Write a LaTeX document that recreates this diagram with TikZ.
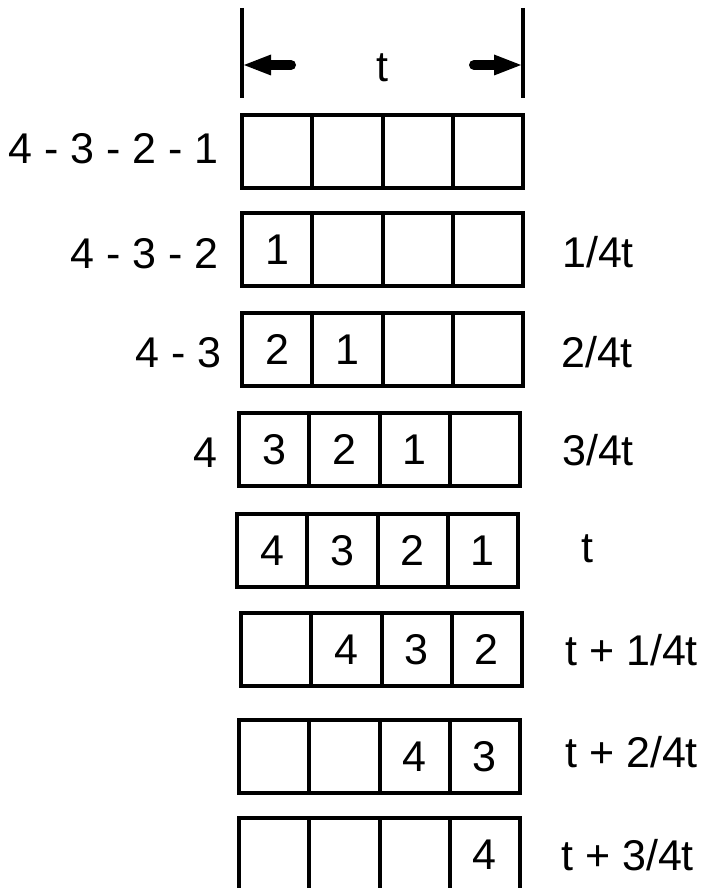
\documentclass[tikz,border=0pt]{standalone}
\usepackage{fontspec}
\newfontfamily\labfont{Liberation Sans}
\usetikzlibrary{arrows.meta}
\tikzset{
  txt/.style={font={\labfont\fontsize{43}{51}\selectfont}, inner sep=0pt},
  cell/.style={draw, line width=4pt, minimum width=70.25pt, minimum height=73pt, inner sep=0pt, txt, text height=30.8pt, text depth=0pt},
  dimline/.style={line width=4pt},
  dimarrow/.style={line width=10pt, line cap=round, -{Triangle[length=27pt,width=21pt,line width=0pt]}}
}
\begin{document}
\begin{tikzpicture}[x=1pt,y=-1pt]
\useasboundingbox (0,0) rectangle (707,888);
\clip (0,0) rectangle (707,888);
% dimension lines
\coordinate (lt) at (242,8);
\coordinate (lb) at (242,98);
\coordinate (rt) at (523,8);
\coordinate (rb) at (523,98);
\draw[dimline] (lt) -- (lb);
\draw[dimline] (rt) -- (rb);
\coordinate (la) at (291,65);
\coordinate (lta) at (244,65);
\coordinate (ra) at (474,65);
\coordinate (rta) at (521,65);
\draw[dimarrow] (la) -- (lta);
\draw[dimarrow] (ra) -- (rta);
\node[txt, anchor=base] (tlab) at (382,82) {t};
% rows of cells
\foreach \r/\L/\T/\a/\b/\c/\d in {
  1/242/114/{}/{}/{}/{},
  2/242/212/1/{}/{}/{},
  3/242/312/2/1/{}/{},
  4/239/412/3/2/1/{},
  5/237/513/4/3/2/1,
  6/241/612/{}/4/3/2,
  7/239/719/{}/{}/4/3,
  8/239/817/{}/{}/{}/4}{
  \node[cell] (r\r c1) at (\L+35.125, \T+37.5) {\a};
  \node[cell] (r\r c2) at (\L+105.375, \T+37.5) {\b};
  \node[cell] (r\r c3) at (\L+175.625, \T+37.5) {\c};
  \node[cell] (r\r c4) at (\L+245.875, \T+37.5) {\d};
}
% left labels
\node[txt, anchor=base east] (l1) at (219,163) {4 - 3 - 2 - 1};
\node[txt, anchor=base east] (l2) at (219,268) {4 - 3 - 2};
\node[txt, anchor=base east] (l3) at (222,367) {4 - 3};
\node[txt, anchor=base east] (l4) at (218,467) {4};
% right labels
\node[txt, anchor=base west] (q1) at (562,267) {1/4t};
\node[txt, anchor=base west] (q2) at (561,367) {2/4t};
\node[txt, anchor=base west] (q3) at (562,465) {3/4t};
\node[txt, anchor=base west] (q4) at (581,562) {t};
\node[txt, anchor=base west] (q5) at (565,665) {t + 1/4t};
\node[txt, anchor=base west] (q6) at (565,767) {t + 2/4t};
\node[txt, anchor=base west] (q7) at (561,870) {t + 3/4t};
\end{tikzpicture}
\end{document}
